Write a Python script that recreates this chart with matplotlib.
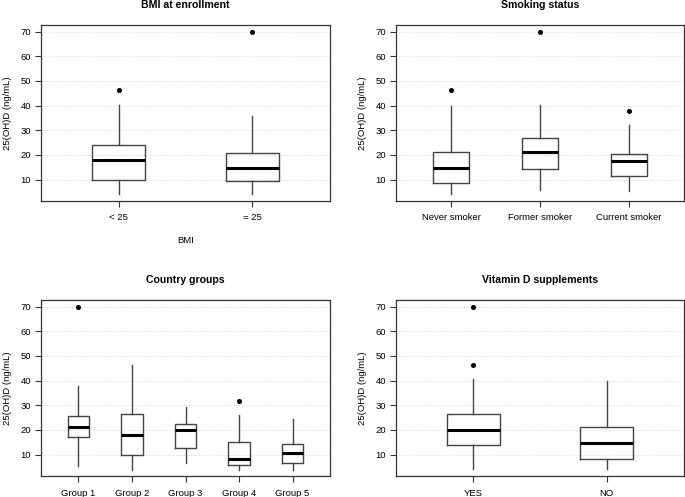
import matplotlib
matplotlib.use("Agg")
import matplotlib.pyplot as plt

plt.rcParams['font.family'] = ['Liberation Sans', 'DejaVu Sans']

# ---- data ----
bmi_labels = ["< 25", "= 25"]
bmi_q1 = [10.0, 9.6]
bmi_med = [18.0, 14.6]
bmi_q3 = [24.2, 20.8]
bmi_wlo = [4.0, 4.0]
bmi_whi = [40.4, 35.9]
bmi_out = [[46.4], [70.0]]

smk_labels = ["Never smoker", "Former smoker", "Current smoker"]
smk_q1 = [8.6, 14.3, 11.6]
smk_med = [14.6, 21.4, 17.6]
smk_q3 = [21.1, 26.9, 20.4]
smk_wlo = [4.0, 5.7, 5.4]
smk_whi = [39.9, 40.4, 32.3]
smk_out = [[46.4], [70.0], [37.7]]

cty_labels = ["Group 1", "Group 2", "Group 3", "Group 4", "Group 5"]
cty_q1 = [17.2, 9.9, 12.8, 5.9, 6.5]
cty_med = [21.4, 18.0, 19.9, 8.4, 10.8]
cty_q3 = [25.6, 26.3, 22.5, 15.0, 14.5]
cty_wlo = [5.3, 3.9, 6.6, 3.9, 3.9]
cty_whi = [37.8, 46.2, 29.2, 26.1, 24.5]
cty_out = [[70.0], [], [], [31.9], []]

vit_labels = ["YES", "NO"]
vit_q1 = [14.1, 8.2]
vit_med = [19.9, 14.6]
vit_q3 = [26.3, 21.2]
vit_wlo = [4.1, 4.1]
vit_whi = [40.5, 39.7]
vit_out = [[70.0, 46.4], []]

yticks = [10, 20, 30, 40, 50, 60, 70]
ylabel = "25(OH)D (ng/mL)"

W, H = 685, 497
fig = plt.figure(figsize=(W / 100, H / 100), dpi=100)

def rect(x0, y0, x1, y1):
    return [x0 / W, 1 - y1 / H, (x1 - x0) / W, (y1 - y0) / H]

def panel(box, title, labels, q1, med, q3, wlo, whi, out, xlabel=None):
    ax = fig.add_axes(box)
    n = len(labels)
    stats = []
    for i in range(n):
        stats.append(dict(q1=q1[i], med=med[i], q3=q3[i], whislo=wlo[i],
                          whishi=whi[i], fliers=out[i]))
    for y in yticks:
        ax.axhline(y, color="#c8c8c8", lw=0.6, ls=(0, (1, 2)), zorder=0)
    ax.bxp(stats, positions=list(range(1, n + 1)), widths=0.4,
           showcaps=False, patch_artist=False,
           boxprops=dict(color="#444444", lw=1.0),
           whiskerprops=dict(color="#444444", lw=1.0),
           medianprops=dict(color="black", lw=2.2),
           flierprops=dict(marker="o", markersize=2.6, markerfacecolor="black",
                           markeredgecolor="black"))
    ax.set_xlim(0.5 - 0.04 * n, n + 0.5 + 0.04 * n)
    ax.set_ylim(1.36, 72.64)
    ax.set_yticks(yticks)
    ax.set_xticks(list(range(1, n + 1)))
    ax.set_xticklabels(labels)
    ax.tick_params(labelsize=6.8, length=4, width=0.8, color="#333333", pad=5)
    ax.tick_params(axis='y', pad=3)
    for s in ax.spines.values():
        s.set_color("#333333")
        s.set_linewidth(0.9)
    ax.set_title(title, fontsize=7.6, fontweight="bold", pad=12)
    ax.set_ylabel(ylabel, fontsize=6.8, labelpad=6)
    if xlabel:
        ax.set_xlabel(xlabel, fontsize=6.8, labelpad=10)
    return ax

panel(rect(41, 25, 330, 201), "BMI at enrollment", bmi_labels, bmi_q1, bmi_med,
      bmi_q3, bmi_wlo, bmi_whi, bmi_out, xlabel="BMI")
panel(rect(396, 25, 684, 201), "Smoking status", smk_labels, smk_q1, smk_med,
      smk_q3, smk_wlo, smk_whi, smk_out)
panel(rect(41, 300, 330, 476), "Country groups", cty_labels, cty_q1, cty_med,
      cty_q3, cty_wlo, cty_whi, cty_out)
panel(rect(396, 300, 684, 476), "Vitamin D supplements", vit_labels, vit_q1,
      vit_med, vit_q3, vit_wlo, vit_whi, vit_out)

fig.savefig("out.png", dpi=100)
